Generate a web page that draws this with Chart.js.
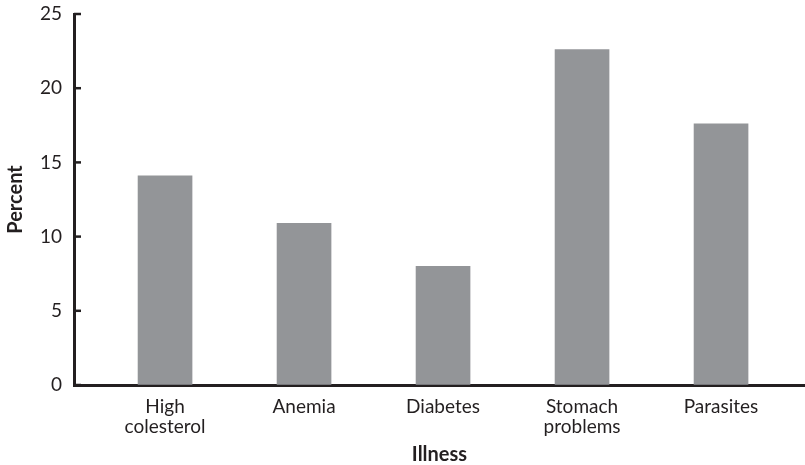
<!DOCTYPE html>
<html>
<head>
<meta charset="utf-8">
<script src="https://cdn.jsdelivr.net/npm/chart.js@4"></script>
<style>
  html, body { margin: 0; padding: 0; background: #fff; }
  #wrap { width: 805px; height: 465px; }
</style>
</head>
<body>
<div id="wrap"><canvas id="illness"></canvas></div>
<script>
const categories = [['High', 'colesterol'], 'Anemia', 'Diabetes', ['Stomach', 'problems'], 'Parasites'];
const percent = [14.1, 10.9, 8.0, 22.6, 17.6];
const yTicks = [0, 5, 10, 15, 20, 25];

const ink = '#231f20';
const barGrey = '#939598';

// little tick marks pointing into the plot, like the printed figure
const innerTicks = {
  id: 'innerTicks',
  afterDraw(chart) {
    const y = chart.scales.y;
    const ctx = chart.ctx;
    ctx.save();
    ctx.strokeStyle = ink;
    ctx.lineWidth = 2.5;
    yTicks.forEach(v => {
      const py = y.getPixelForValue(v);
      ctx.beginPath();
      ctx.moveTo(chart.chartArea.left, py);
      ctx.lineTo(chart.chartArea.left + 7, py);
      ctx.stroke();
    });
    ctx.restore();
  }
};

const data = {
  datasets: [{
    label: 'Percent',
    data: percent.map((v, i) => ({ x: i, y: v })),
    backgroundColor: barGrey,
    borderWidth: 0,
    barThickness: 54,
  }]
};

const config = {
  type: 'bar',
  data: data,
  options: {
    responsive: true,
    maintainAspectRatio: false,
    animation: false,
    layout: { padding: { top: 14, left: 0, right: 0, bottom: 0 } },
    plugins: {
      legend: { display: false },
      tooltip: { enabled: false },
    },
    scales: {
      x: {
        type: 'linear',
        offset: false,
        min: -0.655,
        max: 4.604,
        afterBuildTicks: scale => {
          scale.ticks = categories.map((c, i) => ({ value: i }));
        },
        afterFit: scale => {
          scale.height = 80;
          scale.paddingLeft = 0;
          scale.paddingRight = 0;
        },
        grid: { offset: false, drawOnChartArea: false, drawTicks: false },
        border: { display: true, color: ink, width: 3 },
        ticks: {
          color: ink,
          padding: 12,
          maxRotation: 0,
          autoSkip: false,
          font: { family: 'Lato', size: 19, lineHeight: 1.05 },
          callback: value => categories[value],
        },
        title: {
          display: true,
          text: 'Illness',
          color: ink,
          padding: 0,
          font: { family: 'Lato', size: 20, weight: 'bold', lineHeight: 1 },
        },
      },
      y: {
        min: 0,
        max: 25,
        afterFit: scale => {
          scale.width = 74;
          scale.paddingTop = 0;
          scale.paddingBottom = 0;
        },
        grid: { drawOnChartArea: false, drawTicks: false },
        border: { display: true, color: ink, width: 3 },
        ticks: {
          stepSize: 5,
          color: ink,
          padding: 12,
          font: { family: 'Lato', size: 19 },
        },
        title: {
          display: true,
          text: 'Percent',
          color: ink,
          padding: { top: 4, bottom: 0 },
          font: { family: 'Lato', size: 20, weight: 'bold', lineHeight: 1.2 },
        },
      },
    },
  },
  plugins: [innerTicks],
};

const illnessChart = new Chart(
  document.getElementById('illness'),
  config
);
</script>
</body>
</html>
